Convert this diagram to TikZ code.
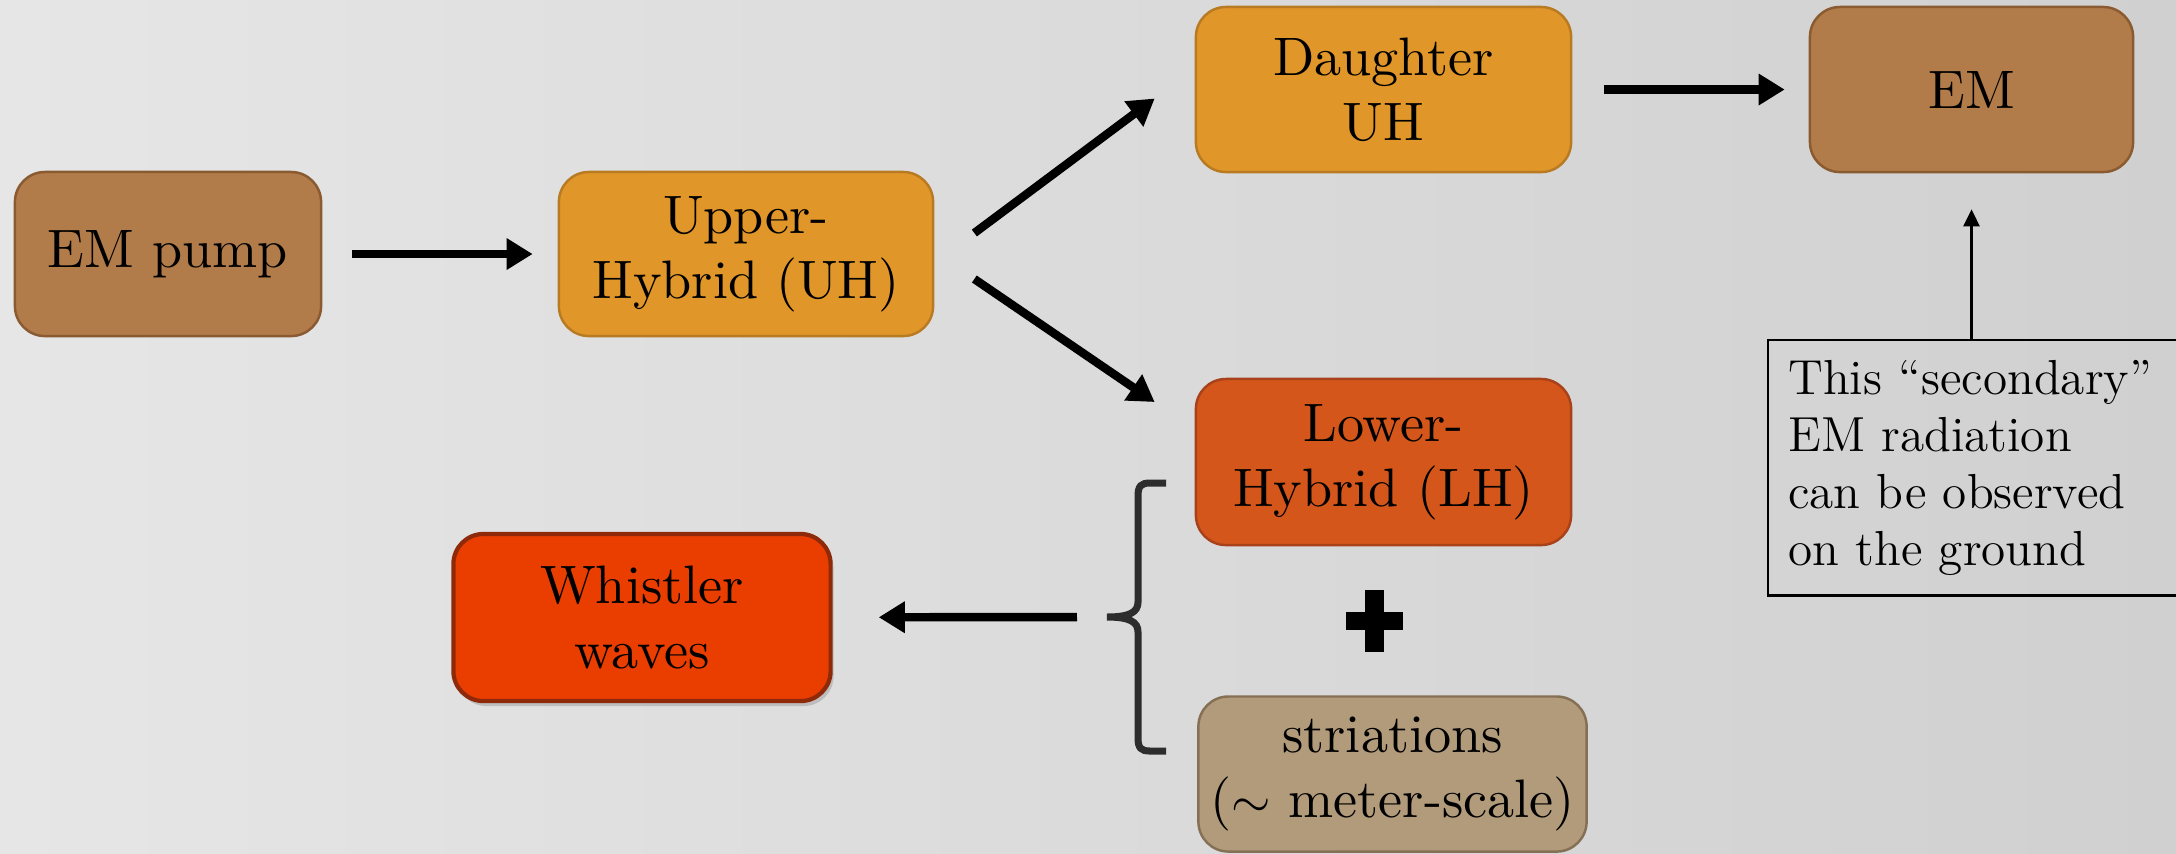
\documentclass[tikz,border=0pt]{standalone}
\usepackage{fontspec}
\newfontfamily\boxfont{lmroman10-regular}[Extension=.otf, Ligatures=TeX]
\usetikzlibrary{arrows.meta,calc,shadows}
\definecolor{bgL}{HTML}{E6E6E6}
\definecolor{bgR}{HTML}{D0D0D0}
\definecolor{pumpF}{HTML}{B27B4A}
\definecolor{pumpD}{HTML}{8A5A30}
\definecolor{uhF}{HTML}{E09628}
\definecolor{uhD}{HTML}{B87A22}
\definecolor{lhF}{HTML}{D4561A}
\definecolor{lhD}{HTML}{A8421A}
\definecolor{whF}{HTML}{EA3D00}
\definecolor{whD}{HTML}{8E2A0A}
\definecolor{stF}{HTML}{B19B7B}
\definecolor{stD}{HTML}{857055}
\definecolor{braceC}{HTML}{2D2D2D}
\begin{document}
\begin{tikzpicture}[x=0.01cm,y=-0.01cm,
  box/.style={rounded corners=0.3cm, line width=0.7pt, align=center,
    font=\boxfont\fontsize{15.4}{18.5}\selectfont, inner sep=0pt},
  bigarrow/.style={line width=2.4pt, -{Triangle[length=0.26cm,width=0.3cm]}},
  thinarrow/.style={line width=0.7pt, -{Triangle[length=0.17cm,width=0.16cm]}}]
\useasboundingbox (0,0) rectangle (2176,853);
\shade[left color=bgL, right color=bgR] (0,0) rectangle (2176,853);
\begin{scope}
\clip (0,0) rectangle (2176,853);
\node[box, fill=pumpF, draw=pumpD, minimum width=3.06cm, minimum height=1.64cm] (pump) at (168,254) {EM pump};
\node[box, fill=uhF, draw=uhD, minimum width=3.74cm, minimum height=1.64cm] (uh) at (746,254) {Upper-\\Hybrid (UH)};
\node[box, fill=uhF, draw=uhD, minimum width=3.75cm, minimum height=1.65cm] (daughter) at (1383.5,89.5) {Daughter\\UH};
\node[box, fill=pumpF, draw=pumpD, minimum width=3.23cm, minimum height=1.65cm] (em) at (1971.5,89.5) {EM};
\node[box, fill=lhF, draw=lhD, minimum width=3.75cm, minimum height=1.66cm] (lh) at (1383.5,462) {Lower-\\Hybrid (LH)};
\node[box, fill=whF, draw=whD, line width=1.2pt, minimum width=3.77cm, minimum height=1.67cm,
  drop shadow={shadow xshift=0.03cm, shadow yshift=-0.05cm, opacity=0.35}] (whistler) at (642,617.5) {Whistler\\waves};
\node[box, fill=stF, draw=stD, minimum width=3.88cm, minimum height=1.55cm] (str) at (1392.5,774) {striations\\($\sim$ meter-scale)};
\node[draw=black, line width=0.7pt, anchor=north west, align=left, text width=3.9cm,
  inner xsep=0.2cm, minimum height=2.55cm, font=\fontsize{14}{16.2}\selectfont] (note) at (1767,339)
  {This “secondary”\\EM radiation\\can be observed\\on the ground};
% plus sign
\fill (1365,590) rectangle (1384,652);
\fill (1346,612) rectangle (1403,630);
% brace
\coordinate (bracetip) at (1107,617);
\draw[braceC, line width=2pt, line cap=butt]
  (1166,483) -- (1150,483) .. controls (1141,483) and (1138,486) .. (1138,496)
  -- (1138,602) .. controls (1138,612) and (1130,617) .. (bracetip)
  .. controls (1130,617) and (1138,622) .. (1138,632)
  -- (1138,738) .. controls (1138,748) and (1141,751) .. (1150,751) -- (1166,751);
\end{scope}
% arrows
\draw[bigarrow, shorten <=0.3cm, shorten >=0.25cm] (pump) -- (uh);
\draw[bigarrow] ($(uh.east)+(40,-21)$) -- ($(daughter.west)+(-40,9)$);
\draw[bigarrow] ($(uh.east)+(40,25)$) -- ($(lh.west)+(-40,-60)$);
\draw[bigarrow, shorten <=0.32cm, shorten >=0.24cm] (daughter) -- (em);
\draw[bigarrow, shorten <=0.3cm, shorten >=0.46cm] (bracetip) -- (whistler);
\draw[thinarrow, shorten >=0.36cm] (note.north -| em.south) -- (em);
\end{tikzpicture}
\end{document}
